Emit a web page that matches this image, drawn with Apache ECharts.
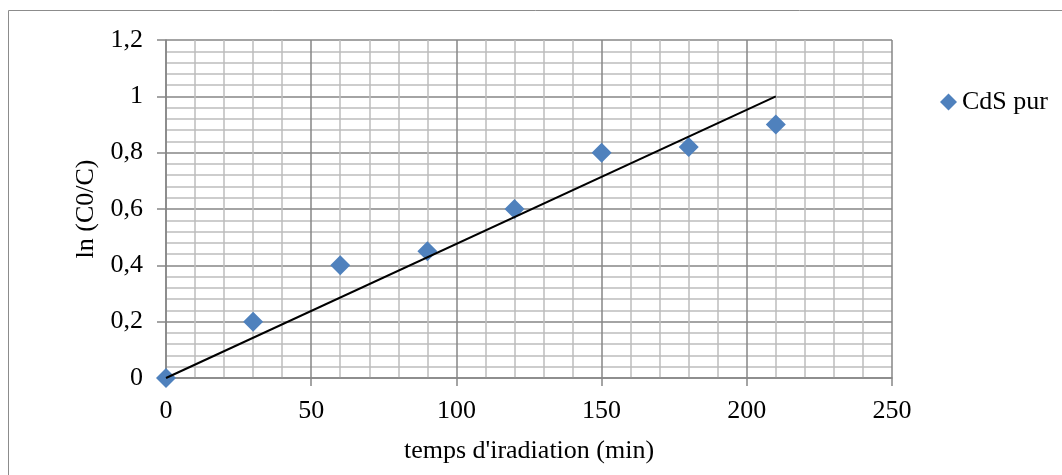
<!DOCTYPE html>
<html><head><meta charset="utf-8">
<script src="https://cdn.jsdelivr.net/npm/echarts@6/dist/echarts.min.js"></script>
<style>html,body{margin:0;padding:0;background:#fff}#c{width:1062px;height:475px}</style>
</head><body><div id="c"></div>
<script>
const timeMin = [0, 30, 60, 90, 120, 150, 180, 210];
const lnC0C = [0, 0.2, 0.4, 0.45, 0.6, 0.8, 0.82, 0.9];
const trendX = [0, 210];
const trendY = [0, 1.0];
const seriesName = 'CdS pur';

const chart = echarts.init(document.getElementById('c'), null, {renderer: 'canvas'});
const font = 'Liberation Serif, Times New Roman, serif';
chart.setOption({
  animation: false,
  textStyle: {fontFamily: font},
  graphic: [{type: 'rect', shape: {x: 8.5, y: 10.5, width: 1200, height: 600}, style: {fill: 'none', stroke: '#8c8c8c', lineWidth: 1}, z: -10}],
  grid: {left: 166, top: 40, width: 726, height: 338},
  legend: {
    data: [{name: seriesName, icon: 'diamond', itemStyle: {opacity: 1}}],
    left: 935, top: 84, itemWidth: 17, itemHeight: 17, itemGap: 4,
    textStyle: {fontFamily: font, fontSize: 26, color: '#000'}
  },
  xAxis: {
    type: 'value', min: 0, max: 250, interval: 50,
    name: "temps d'iradiation (min)", nameLocation: 'middle', nameGap: 60,
    nameTextStyle: {fontFamily: font, fontSize: 26, color: '#000'},
    axisLine: {onZero: false, lineStyle: {color: '#868686', width: 1.5}},
    axisTick: {show: true, length: 8, lineStyle: {color: '#868686', width: 1.5}},
    axisLabel: {fontFamily: font, fontSize: 26, color: '#000', margin: 20},
    splitLine: {show: true, lineStyle: {color: '#868686', width: 1.5}},
    minorTick: {show: false, splitNumber: 5},
    minorSplitLine: {show: true, lineStyle: {color: '#bdbdbd', width: 1.5}}
  },
  yAxis: {
    type: 'value', min: 0, max: 1.2, interval: 0.2,
    name: 'ln (C0/C)', nameLocation: 'middle', nameGap: 61, nameRotate: 90,
    nameTextStyle: {fontFamily: font, fontSize: 26, color: '#000'},
    axisLine: {show: true, onZero: false, lineStyle: {color: '#868686', width: 1.5}},
    axisTick: {show: true, length: 9, lineStyle: {color: '#868686', width: 1.5}},
    axisLabel: {fontFamily: font, fontSize: 26, color: '#000', margin: 23,
      formatter: v => String(Math.round(v * 10) / 10).replace('.', ',')},
    splitLine: {show: true, lineStyle: {color: '#868686', width: 1.5}},
    minorTick: {show: false, splitNumber: 5},
    minorSplitLine: {show: true, lineStyle: {color: '#bdbdbd', width: 1.5}}
  },
  series: [
    {
      name: seriesName, type: 'scatter', symbol: 'diamond', symbolSize: 20,
      itemStyle: {color: '#4F81BD', opacity: 1},
      data: timeMin.map((t, i) => [t, lnC0C[i]]), z: 3
    },
    {
      name: 'trend', type: 'line', symbol: 'none', silent: true,
      lineStyle: {color: '#000', width: 2},
      data: trendX.map((t, i) => [t, trendY[i]]), z: 4
    }
  ]
});
</script></body></html>
